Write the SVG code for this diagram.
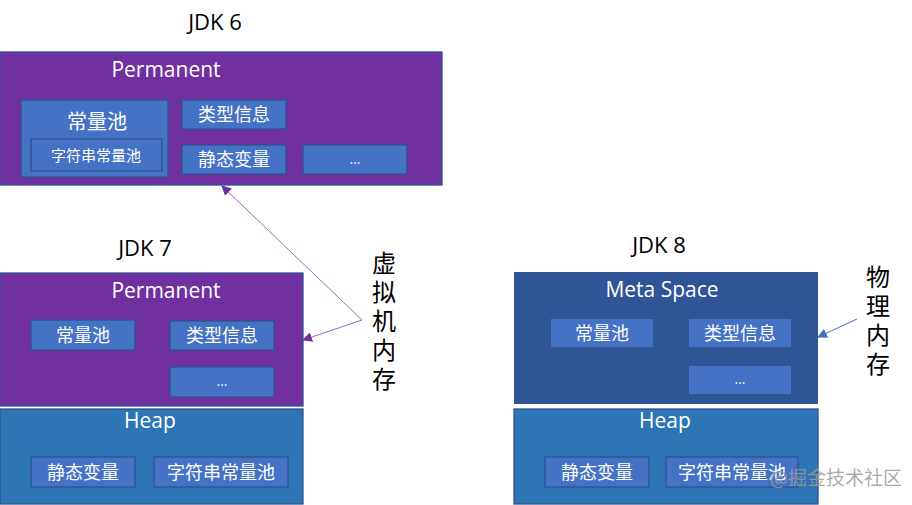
<svg xmlns="http://www.w3.org/2000/svg" width="912" height="505" viewBox="0 0 912 505">
<defs>
<style>
.perm{fill:#7030A0;stroke:#2F528F;stroke-width:1.3}
.meta{fill:#2F5597}
.heap{fill:#2E75B6;stroke:#2F528F;stroke-width:1.3}
.box{fill:#4472C4;stroke:#2F528F;stroke-width:1.3}
.boxn{fill:#4472C4}
.t{font-family:"Noto Sans CJK SC","Noto Sans",sans-serif;fill:#fff;text-anchor:middle}
.lat{font-family:"Open Sans","Noto Sans",sans-serif;fill:#fff;text-anchor:middle;font-size:21px}
.title{font-family:"Open Sans","Noto Sans",sans-serif;fill:#000;text-anchor:middle;font-size:22px}
.vert{font-family:"Noto Sans CJK SC",sans-serif;fill:#000;font-size:24px;writing-mode:vertical-rl;letter-spacing:5px}
</style>
<marker id="ap" viewBox="0 0 10 10" refX="9" refY="5" markerWidth="10" markerHeight="10" markerUnits="userSpaceOnUse" orient="auto"><path d="M0,0 L10,5 L0,10 z" fill="#7030A0"/></marker>
<marker id="ab" viewBox="0 0 10 10" refX="9" refY="5" markerWidth="10" markerHeight="10" markerUnits="userSpaceOnUse" orient="auto"><path d="M0,0 L10,5 L0,10 z" fill="#4472C4"/></marker>
</defs>
<rect width="912" height="505" fill="#fff"/>

<text class="title" x="215" y="30">JDK 6</text>
<g id="jdk6-permanent">
<rect class="perm" x="0" y="52" width="442" height="133"/>
<text class="lat" x="166" y="77">Permanent</text>
</g>
<g id="jdk6-constpool">
<rect class="box" x="21" y="100" width="147" height="77"/>
<text class="t" x="97" y="129" font-size="20">常量池</text>
</g>
<g id="jdk6-strpool">
<rect class="box" x="31" y="139" width="131" height="32"/>
<text class="t" x="96" y="161" font-size="15">字符串常量池</text>
</g>
<g id="jdk6-type">
<rect class="box" x="182" y="100" width="104" height="29"/>
<text class="t" x="234" y="121" font-size="18">类型信息</text>
</g>
<g id="jdk6-static">
<rect class="box" x="182" y="145" width="104" height="29"/>
<text class="t" x="234" y="166" font-size="18">静态变量</text>
</g>
<g id="jdk6-etc">
<rect class="box" x="303" y="145" width="104" height="29"/>
<text class="t" x="355" y="164" font-size="13">...</text>
</g>

<text class="title" x="145" y="256">JDK 7</text>
<g id="jdk7-permanent">
<rect class="perm" x="0" y="273" width="303" height="133"/>
<text class="lat" x="166" y="298">Permanent</text>
</g>
<g id="jdk7-constpool">
<rect class="box" x="31" y="320" width="104" height="30"/>
<text class="t" x="83" y="342" font-size="18">常量池</text>
</g>
<g id="jdk7-type">
<rect class="box" x="170" y="321" width="104" height="29"/>
<text class="t" x="222" y="342" font-size="18">类型信息</text>
</g>
<g id="jdk7-etc">
<rect class="box" x="170" y="367" width="104" height="30"/>
<text class="t" x="222" y="386" font-size="13">...</text>
</g>
<g id="jdk7-heap">
<rect class="heap" x="0" y="409" width="303" height="95"/>
<text class="lat" x="150" y="428">Heap</text>
</g>
<g id="jdk7-static">
<rect class="box" x="31" y="457" width="104" height="30"/>
<text class="t" x="83" y="479" font-size="18">静态变量</text>
</g>
<g id="jdk7-strpool">
<rect class="box" x="154" y="457" width="134" height="30"/>
<text class="t" x="221" y="479" font-size="18">字符串常量池</text>
</g>

<g id="label-vm">
<text class="vert" x="384" y="251">虚拟机内存</text>
</g>

<text class="title" x="659" y="253">JDK 8</text>
<g id="jdk8-meta">
<rect class="meta" x="514" y="272" width="304" height="132"/>
<text class="lat" x="662" y="297">Meta Space</text>
</g>
<g id="jdk8-constpool">
<rect class="boxn" x="551" y="319" width="102" height="28"/>
<text class="t" x="602" y="340" font-size="18">常量池</text>
</g>
<g id="jdk8-type">
<rect class="boxn" x="689" y="319" width="102" height="28"/>
<text class="t" x="740" y="340" font-size="18">类型信息</text>
</g>
<g id="jdk8-etc">
<rect class="boxn" x="689" y="366" width="102" height="28"/>
<text class="t" x="740" y="384" font-size="13">...</text>
</g>
<g id="jdk8-heap">
<rect class="heap" x="514" y="409" width="304" height="95"/>
<text class="lat" x="665" y="428">Heap</text>
</g>
<g id="jdk8-static">
<rect class="box" x="545" y="457" width="104" height="30"/>
<text class="t" x="597" y="479" font-size="18">静态变量</text>
</g>
<g id="jdk8-strpool">
<rect class="box" x="666" y="457" width="132" height="30"/>
<text class="t" x="732" y="479" font-size="18">字符串常量池</text>
</g>

<g id="label-phys">
<text class="vert" x="878" y="265">物理内存</text>
</g>

<g id="connectors" fill="none" stroke-width="1">
<path d="M362,320 L222,186" stroke="#9966CC" marker-end="url(#ap)"/>
<path d="M362,320 L303,340" stroke="#9966CC" marker-end="url(#ap)"/>
<path d="M857,319 L818,337" stroke="#4472C4" marker-end="url(#ab)"/>
</g>

<text x="770" y="485" font-family="Noto Sans CJK SC,sans-serif" font-size="19" fill="#9a9a9a" fill-opacity="0.85">@掘金技术社区</text>
</svg>
